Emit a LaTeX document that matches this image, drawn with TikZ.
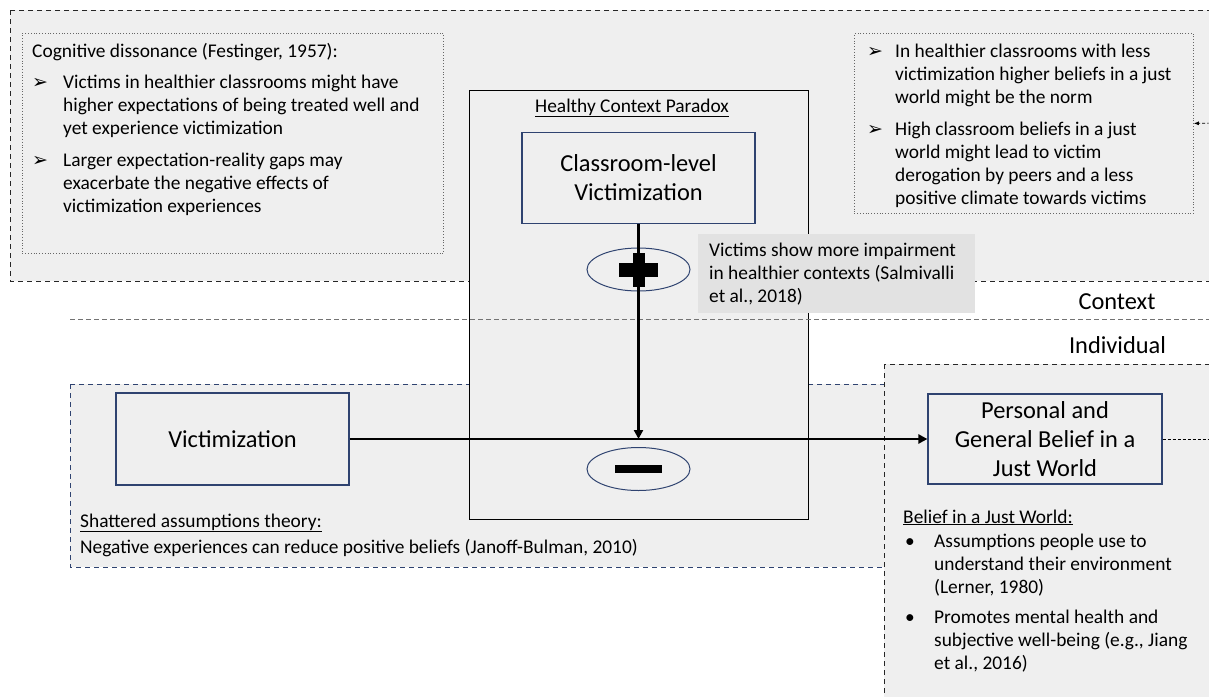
\documentclass[tikz,border=0pt]{standalone}
\usepackage{fontspec}
\setmainfont{Carlito}
\newfontfamily\dejavu{DejaVu Sans}
\usetikzlibrary{arrows.meta,shapes.geometric}
\definecolor{regfill}{HTML}{EFEFEF}
\definecolor{callfill}{HTML}{E2E2E2}
\definecolor{navy}{HTML}{2F4370}
\begin{document}
\begin{tikzpicture}[x=1pt,y=-1pt,
  small/.style={font=\fontsize{19.4}{23.2}\selectfont, inner sep=0pt, align=left, anchor=base west},
  bul/.style={font=\dejavu\fontsize{19}{19}\selectfont, inner sep=0pt, anchor=base west},
  dotb/.style={font=\fontsize{19.4}{23.2}\selectfont, inner sep=0pt, anchor=base west},
  big/.style={font=\fontsize{24.4}{29}\selectfont, align=center},
  varbox/.style={draw=navy, line width=1.2pt, fill=regfill, inner sep=0pt},
  region/.style={fill=regfill, dash pattern=on 5pt off 4pt, line width=0.9pt},
  dotbox/.style={draw=black!60, dotted, line width=0.8pt, inner sep=0pt, anchor=north west},
  oval/.style={draw=navy, line width=1pt, ellipse, inner sep=0pt, minimum width=103, minimum height=43},
  mainarrow/.style={line width=2.5pt, -{Triangle[length=9pt,width=9pt]}},
  thindash/.style={line width=0.7pt, dash pattern=on 3pt off 2pt}
]
\path[use as bounding box] (0,0) rectangle (1209,696);
\clip (0,0) rectangle (1209,696);
% regions
\draw[region, draw=black!85] (10,10) rectangle (1240,281);
\draw[region, draw=navy] (70,384) rectangle (884,567);
\draw[region, draw=black!85] (884,364) rectangle (1240,720);
% inner dotted boxes
\node[dotbox, minimum width=421, minimum height=220] (tl) at (22,33) {};
\node[dotbox, minimum width=339, minimum height=180] (tr) at (854,33) {};
% central box
\node[draw, fill=regfill, line width=1pt, minimum width=339, minimum height=429, inner sep=0pt] (hcp) at (638.5,304.5) {};
% separator
\draw[black!55, line width=0.8pt, dash pattern=on 5pt off 3pt] (70,319) -- (1209,319);
% callout
\node[fill=callfill, anchor=north west, minimum width=277, minimum height=79, inner sep=0pt] (call) at (698,234) {};
\node[small] at (709,302.4) {Victims show more impairment\\in healthier contexts (Salmivalli\\et al., 2018)};
% variable boxes
\node[varbox, big, minimum width=233, minimum height=91] (clv) at (638.5,178) {Classroom-level\\Victimization};
\node[varbox, big, minimum width=233, minimum height=92] (vic) at (232.5,439) {Victimization};
\node[varbox, big, minimum width=234, minimum height=90] (pj) at (1045,439) {Personal and\\General Belief in a\\Just World};
% ovals
\node[oval] (plus) at (638.5,269.5) {};
\node[oval] (minus) at (638.5,469) {};
% arrows
\coordinate (meet) at (638.5,439);
\draw[mainarrow] (clv.south) -- (meet);
\draw[mainarrow] (vic.east) -- (pj.west);
% plus / minus signs
\fill (619,263) rectangle (658,277);
\fill (633,253) rectangle (645,287);
\fill (615,465) rectangle (662,473);
% right dashed connectors
\coordinate (offr) at (1215,439);
\coordinate (offt) at (1215,123);
\draw[thindash] (pj.east) -- (offr);
\draw[thindash, -{Latex[length=5pt,width=4pt]}] (offt) -- (tr.east);
% labels
\node[font=\fontsize{19.4}{23.2}\selectfont, anchor=base, inner sep=0pt] at (632,112) {\underline{Healthy Context Paradox}};
\node[font=\fontsize{24.4}{29}\selectfont, anchor=base, inner sep=0pt] at (1117,309) {Context};
\node[font=\fontsize{24.4}{29}\selectfont, anchor=base, inner sep=0pt] at (1117.5,353) {Individual};
% top-left texts
\node[small] at (32,57) {Cognitive dissonance (Festinger, 1957):};
\node[bul] at (32,88) {➢};
\node[small] at (63,134.4) {Victims in healthier classrooms might have\\higher expectations of being treated well and\\yet experience victimization};
\node[bul] at (32,166) {➢};
\node[small] at (63,212.4) {Larger expectation-reality gaps may\\exacerbate the negative effects of\\victimization experiences};
% top-right texts
\node[bul] at (867,57) {➢};
\node[small] at (895,103.4) {In healthier classrooms with less\\victimization higher beliefs in a just\\world might be the norm};
\node[bul] at (867,135) {➢};
\node[small] at (895,204.6) {High classroom beliefs in a just\\world might lead to victim\\derogation by peers and a less\\positive climate towards victims};
% left bottom texts
\node[small] at (80,527) {\underline{Shattered assumptions theory:}};
\node[small] at (80,553) {Negative experiences can reduce positive beliefs (Janoff-Bulman, 2010)};
% right bottom texts
\node[small] at (903,523) {\underline{Belief in a Just World:}};
\node[dotb] at (905,547) {•};
\node[small] at (934,593.4) {Assumptions people use to\\understand their environment\\(Lerner, 1980)};
\node[dotb] at (905,623) {•};
\node[small] at (934,669.4) {Promotes mental health and\\subjective well-being (e.g., Jiang\\et al., 2016)};
\end{tikzpicture}
\end{document}
